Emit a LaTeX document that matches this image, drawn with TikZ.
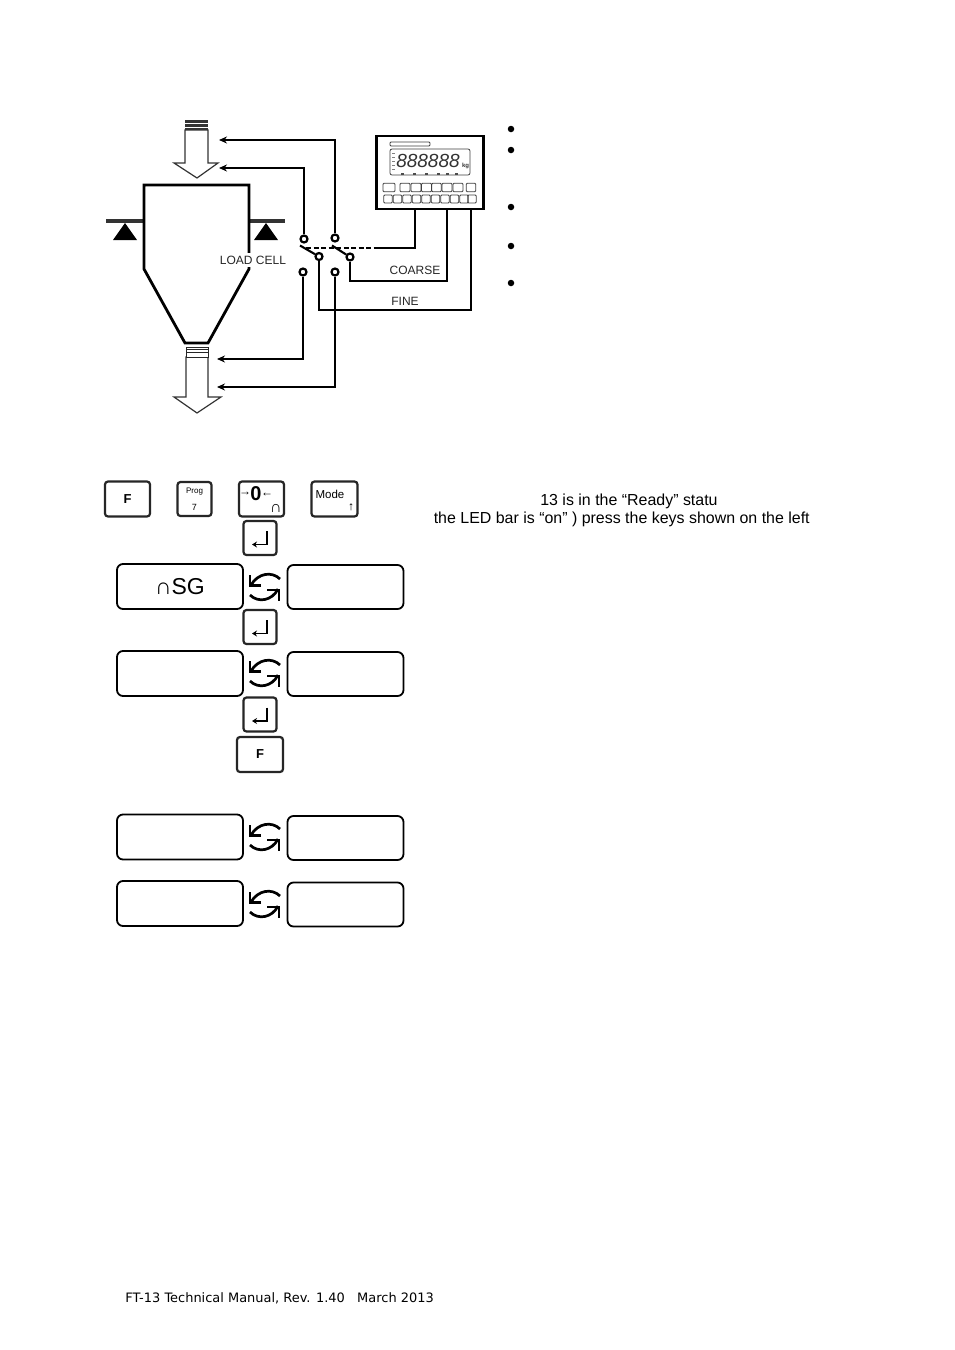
\documentclass[tikz,border=0pt]{standalone}
\usepackage{fontspec}
\setmainfont{Liberation Sans}
\newfontfamily\footfont{DejaVu Sans}
\usetikzlibrary{arrows.meta}

\begin{document}
\begin{tikzpicture}[x=1pt, y=-1pt, >={Stealth[length=8pt,width=7pt]}, semithick]
\tikzstyle{wire}=[line width=2.1pt, black]
\tikzstyle{contact}=[circle, draw=black, fill=white, line width=2.2pt, inner sep=0pt, minimum size=7pt]
\tikzstyle{hollow}=[draw=black!80, line width=1.2pt, fill=white]
\tikzstyle{beam}=[line width=4pt, black!80]
\tikzstyle{hopper}=[line width=2.8pt, black, line join=miter]
\tikzstyle{dot}=[circle, fill=black, inner sep=0pt, minimum size=6.5pt]
\tikzstyle{tag}=[inner sep=0pt, font=\fontsize{12}{12}\selectfont, text=black!85]
\tikzstyle{note}=[inner sep=0pt, anchor=base west, font=\fontsize{15.95}{16}\selectfont]
\tikzstyle{keycap}=[draw=black!85, line width=2.2pt, rounded corners=3pt, fill=white, inner sep=0pt, font=\bfseries\fontsize{13}{13}\selectfont]
\tikzstyle{enter}=[keycap, minimum width=33pt, minimum height=33pt]
\tikzstyle{readout}=[draw=black, line width=1.8pt, rounded corners=6pt, inner sep=0pt, minimum height=44pt, font=\fontsize{23}{23}\selectfont]
\tikzstyle{panel}=[draw=black!75, line width=.8pt, rounded corners=1pt, inner sep=0pt]
\useasboundingbox (0,0) rectangle (954,1350);
\fill[white] (0,0) rectangle (954,1350);

% silo
\draw[beam] (106,221) -- (144,221);
\draw[beam] (249,221) -- (285,221);
\fill[black] (125,223) -- (137,240) -- (113,240) -- cycle;
\fill[black] (266,223) -- (278,240) -- (254,240) -- cycle;
\draw[hopper] (144,269) -- (144,185) -- (249,185) -- (249,269) -- (208,343) -- (185,343) -- cycle;
\node[tag, fill=white, inner ysep=3pt] (cell) at (253,260) {LOAD CELL};

% material flow
\draw[hollow] (185,130) -- (185,163) -- (174,163) -- (197,178) -- (218,163) -- (208,163) -- (208,130) -- cycle;
\fill[black!80] (185,120) rectangle (208,130);
\draw[white, line width=.8pt] (185,123.5) -- (208,123.5) (185,127) -- (208,127);
\draw[hollow] (186,357) -- (186,397) -- (174,397) -- (197,413) -- (221,397) -- (208,397) -- (208,357) -- cycle;
\draw[black!85, line width=1pt, fill=white] (186,347) rectangle (208,357);
\draw[black!85, line width=1pt] (186,349.5) -- (208,349.5) (186,352) -- (208,352);

% instrument
\node[draw=black, line width=2.6pt, minimum width=107pt, minimum height=73pt, inner sep=0pt] (unit) at (430,172.5) {};
\node[panel, minimum width=40pt, minimum height=4pt] (scale) at (410,144) {};
\node[panel, minimum width=80pt, minimum height=26pt, rounded corners=2pt] (frame) at (430,162) {};
\node[inner sep=0pt, font=\itshape\fontsize{19}{19}\selectfont, text=black!80] (digits) at (428,161) {888888};
\node[inner sep=0pt, font=\bfseries\fontsize{6}{6}\selectfont, text=black!80] (unitkg) at (465.5,166) {kg};
\foreach \y in {153,157,161,165,169}
  \fill[black!50] (392,\y) rectangle +(3,1);
\foreach \x/\w in {389/12,405/10,416/10,426.5/10,436.5/9.5,447/10,458/10,471/9.5}
  \node[panel, minimum width=\w pt, minimum height=8.5pt] (top\x) at (\x,187.5) {};
\foreach \x in {388,397.5,407,416.5,426,435.5,445,454.5,464,472}
  \node[panel, minimum width=8.5pt, minimum height=8pt] (low\x) at (\x,199) {};
\foreach \x in {401,413,425,437,446,455}
  \fill[black!70] (\x,172.5) rectangle +(3,2);

% contacts
\node[contact] (a) at (304,239) {};
\node[contact] (b) at (335,238) {};
\node[contact] (c) at (319,256.5) {};
\node[contact] (d) at (350,257) {};
\node[contact] (e) at (303,272) {};
\node[contact] (f) at (335,272) {};
\coordinate (tipA) at (219,168);
\coordinate (tipB) at (219,140);
\coordinate (tipE) at (217,359);
\coordinate (tipF) at (217,387);
\coordinate (dashStart) at (306,248);
\coordinate (dashEnd) at (375,248);
\coordinate (gate) at (415,248);
\coordinate (bladeA) at (300,245.5);
\coordinate (bladeB) at (332,245.5);

\draw[wire,->] (a) |- (tipA);
\draw[wire,->] (b) |- (tipB);
\draw[wire,->] (e) |- (tipE);
\draw[wire,->] (f) |- (tipF);
\draw[wire] (bladeA) -- (c);
\draw[wire] (bladeB) -- (d);
\draw[wire, dash pattern=on 5pt off 2.5pt] (dashStart) -- (dashEnd);
\draw[wire] (dashEnd) -- (gate) -- (gate |- unit.south);
\draw[wire] (d) |- (447,281) -- (447,209);
\draw[wire] (c) |- (471,310) -- (471,209);
\node[tag] (coarse) at (415,270) {COARSE};
\node[tag] (fine) at (405,301) {FINE};

% bullets
\foreach \y in {129,150,207,246,283}
  \node[dot] (dot\y) at (511,\y) {};

% keys
\node[keycap, minimum width=45pt, minimum height=35pt] (keyF) at (127.5,499) {F};
\node[keycap, minimum width=34pt, minimum height=34pt] (keyProg)[right of=keyF, node distance=67pt] {};
\node[keycap, minimum width=45pt, minimum height=35pt] (keyZero)[right of=keyProg, node distance=67pt] {};
\node[keycap, minimum width=46pt, minimum height=35pt] (keyMode)[right of=keyZero, node distance=73pt] {};
\node[inner sep=0pt, font=\fontsize{8}{8}\selectfont] (progA) at (194.5,492) {Prog};
\node[inner sep=0pt, font=\fontsize{9}{9}\selectfont] (progB) at (194.5,507) {7};
\node[inner sep=0pt, font=\bfseries\fontsize{20}{20}\selectfont] (zeroA) at (256,494) {0};
\node[inner sep=0pt, font=\fontsize{12}{12}\selectfont] (zeroB) at (245,494) {→};
\node[inner sep=0pt, font=\fontsize{12}{12}\selectfont] (zeroC) at (267,495) {←};
\node[inner sep=0pt, font=\bfseries\fontsize{16}{16}\selectfont] (zeroD) at (276,508) {∩};
\node[inner sep=0pt, font=\fontsize{11.5}{11.5}\selectfont] (modeA) at (330,494) {Mode};
\node[inner sep=0pt, font=\fontsize{12}{12}\selectfont] (modeB) at (351,507) {↑};
\node[enter, minimum height=34pt] (enter1) at (260,538) {};
\node[enter, minimum height=34pt] (enter2) at (260,627) {};
\node[enter, minimum height=34pt] (enter3) at (260,714.5) {};
\node[keycap, minimum width=46pt, minimum height=35pt] (keyF2) at (260,754.5) {F};
\foreach \k in {enter1,enter2,enter3}
  \draw[-{Stealth[length=5pt,width=6pt]}, line width=1.6pt] ([shift={(7,-7)}]\k.center) -- ++(0,13.5) -- ++(-15,0);

% readouts
\node[readout, minimum width=126pt, minimum height=45pt] (r1L) at (180,586.5) {∩SG};
\node[readout, minimum width=116pt] (r1R) at (345.5,587) {};
\node[readout, minimum width=126pt, minimum height=45pt] (r2L) at (180,673.5) {};
\node[readout, minimum width=116pt] (r2R) at (345.5,674) {};
\node[readout, minimum width=126pt, minimum height=45pt] (r3L) at (180,837) {};
\node[readout, minimum width=116pt] (r3R) at (345.5,838) {};
\node[readout, minimum width=126pt, minimum height=45pt] (r4L) at (180,903.5) {};
\node[readout, minimum width=116pt] (r4R) at (345.5,904.5) {};

\foreach \cy in {587,673,837,904} {
  \draw[line width=2.7pt] (280,\cy-8) .. controls (272,\cy-16) and (258,\cy-14) .. (251,\cy-2);
  \draw[line width=2.7pt] (261,\cy-1.5) -- (250,\cy-1.5) -- (250,\cy-12.5);
  \draw[line width=2.7pt] (250,\cy+8) .. controls (258,\cy+16) and (272,\cy+14) .. (278,\cy+2);
  \draw[line width=2.7pt] (267,\cy+3) -- (279,\cy+3) -- (279,\cy+14);
}

% text
\node[note] (ready) at (540,505) {13 is in the “Ready” statu};
\node[note] (press) at (433.5,523) {the LED bar is “on” ) press the keys shown on the left};
\node[inner sep=0pt, anchor=base west, font=\footfont\fontsize{12.95}{13}\selectfont] (footer) at (125,1302) {FT-13 Technical Manual, Rev. 1.40\ \ \ March 2013};
\end{tikzpicture}
\end{document}
